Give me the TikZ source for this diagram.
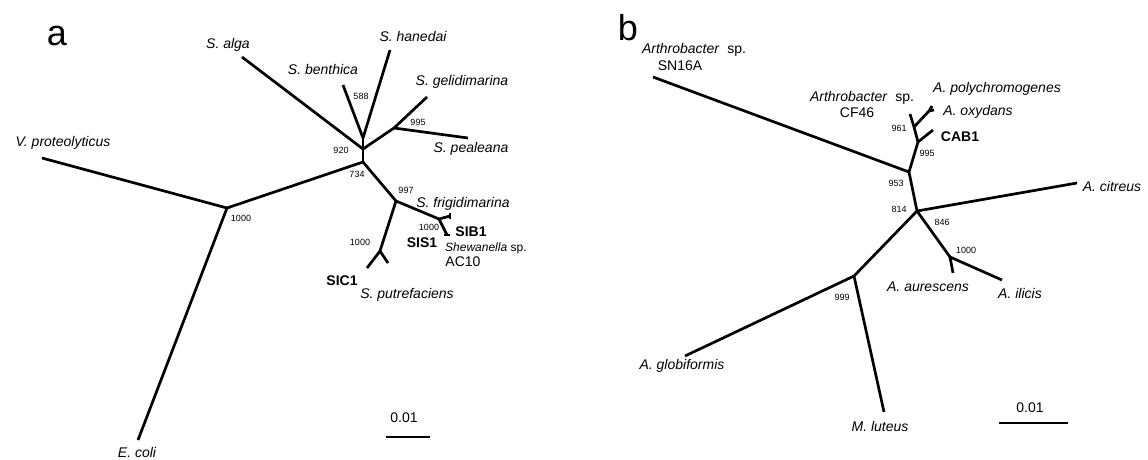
\documentclass[tikz,border=0pt]{standalone}
\usepackage{fontspec}
\setmainfont{Liberation Sans}
\begin{document}
\begin{tikzpicture}[x=1pt,y=-1pt,
  branch/.style={line width=2.7pt, line join=round},
  taxon/.style={font=\fontsize{14}{16}\selectfont\itshape, inner sep=0pt},
  strain/.style={font=\fontsize{14}{16}\selectfont\bfseries, inner sep=0pt},
  plain/.style={font=\fontsize{14}{16}\selectfont, inner sep=0pt},
  boot/.style={font=\fontsize{9}{10}\selectfont, inner sep=0pt},
  panel/.style={font=\fontsize{36}{40}\selectfont, inner sep=0pt, anchor=base},
  scalebar/.style={line width=2.4pt}]
\useasboundingbox (0,0) rectangle (1148,459);

% ---------------- panel a: Shewanella tree ----------------
\node[panel] (la) at (57,45) {a};

% internal nodes
\coordinate (a588) at (363,138);
\coordinate (a920) at (363,149);
\coordinate (a995) at (394,128);
\coordinate (a734) at (363,162);
\coordinate (a1000) at (227,208);
\coordinate (a997) at (396,201);
\coordinate (aSIB) at (439,219);
\coordinate (aSIC) at (380,251);
% tips
\coordinate (tAlga) at (242,57);
\coordinate (tBenth) at (343,85);
\coordinate (tHaned) at (390,50);
\coordinate (tGelid) at (427,97);
\coordinate (tPeal) at (468,138);
\coordinate (tVpro) at (42,158);
\coordinate (tEcoli) at (138,440);
\coordinate (tSIB1) at (450,216);
\coordinate (tSIS1) at (447,235);
\coordinate (tSIC1) at (367,268);
\coordinate (tPutr) at (388,263);

\draw[branch] (tAlga) -- (a920);
\draw[branch] (tBenth) -- (a588);
\draw[branch] (tHaned) -- (a588);
\draw[branch] (a588) -- (a920);
\draw[branch] (a920) -- (a995);
\draw[branch] (a995) -- (tGelid);
\draw[branch] (a995) -- (tPeal);
\draw[branch] (a920) -- (a734);
\draw[branch] (a734) -- (a1000);
\draw[branch] (a1000) -- (tVpro);
\draw[branch] (a1000) -- (tEcoli);
\draw[branch] (a734) -- (a997);
\draw[branch] (a997) -- (aSIB);
\draw[branch] (aSIB) -- (tSIB1);
\draw[branch] (aSIB) -- (tSIS1);
\draw[branch] ([xshift=-3pt]tSIS1) -- ([xshift=3pt]tSIS1);
\draw[branch] ([yshift=-3pt]tSIB1) -- ([yshift=3pt]tSIB1);
\draw[branch] (a997) -- (aSIC);
\draw[branch] (aSIC) -- (tSIC1);
\draw[branch] (aSIC) -- (tPutr);

% taxon labels
\node[taxon] (nAlga) at (228,45) {S. alga};
\node[taxon] (nBenth) at (323,69) {S. benthica};
\node[taxon] (nHaned) at (413,36) {S. hanedai};
\node[taxon] (nGelid) at (462,82) {S. gelidimarina};
\node[taxon] (nPeal) at (471,149) {S. pealeana};
\node[taxon] (nVpro) at (63,143) {V. proteolyticus};
\node[taxon] (nEcoli) at (137,452) {E. coli};
\node[taxon] (nFrig) at (463,204) {S. frigidimarina};
\node[strain] (nSIB1) at (471,232) {SIB1};
\node[strain] (nSIS1) at (422,243) {SIS1};
\node[plain, anchor=west, font=\fontsize{12}{14}\selectfont] (nShew) at (445,248) {\itshape Shewanella\/\upshape\ sp.};
\node[plain] (nAC10) at (463,262) {AC10};
\node[strain] (nSIC1) at (342,281) {SIC1};
\node[taxon] (nPutr) at (407,295) {S. putrefaciens};

% bootstrap values
\node[boot] (b588) at (361,96) {588};
\node[boot] (b995) at (418,122) {995};
\node[boot] (b920) at (341,150) {920};
\node[boot] (b734) at (357,174) {734};
\node[boot] (b997) at (406,190) {997};
\node[boot] (b1000a) at (241,218) {1000};
\node[boot] (b1000b) at (429,227) {1000};
\node[boot] (b1000c) at (360,242) {1000};

% scale bar
\coordinate (sa1) at (386,437);
\coordinate (sa2) at (430,437);
\draw[scalebar] (sa1) -- (sa2);
\node[plain] (sla) at (404,418) {0.01};

% ---------------- panel b: Arthrobacter tree ----------------
\node[panel] (lb) at (628,40) {b};

% internal nodes
\coordinate (b953) at (909,172);
\coordinate (b995n) at (918,142);
\coordinate (b961) at (914,127);
\coordinate (bOxy) at (929,111);
\coordinate (b814) at (917,211);
\coordinate (b1000n) at (950,257);
\coordinate (b999) at (854,276);
% tips
\coordinate (tSN) at (653,77);
\coordinate (tCF) at (910,114);
\coordinate (tPoly) at (932,106);
\coordinate (tOxyd) at (934,110);
\coordinate (tCAB) at (933,130);
\coordinate (tCitr) at (1077,183);
\coordinate (tAur) at (953,273);
\coordinate (tIlic) at (1002,280);
\coordinate (tGlob) at (685,356);
\coordinate (tLut) at (884,412);

\draw[branch] (tSN) -- (b953);
\draw[branch] (b953) -- (b995n);
\draw[branch] (b995n) -- (b961);
\draw[branch] (b961) -- (tCF);
\draw[branch] (b961) -- (bOxy);
\draw[branch] (bOxy) -- (tPoly);
\draw[branch] (bOxy) -- (tOxyd);
\draw[branch] (b995n) -- (tCAB);
\draw[branch] (b953) -- (b814);
\draw[branch] (b814) -- (tCitr);
\draw[branch] (b814) -- (b1000n);
\draw[branch] (b1000n) -- (tAur);
\draw[branch] (b1000n) -- (tIlic);
\draw[branch] (b814) -- (b999);
\draw[branch] (b999) -- (tGlob);
\draw[branch] (b999) -- (tLut);

% taxon labels
\node[plain] (nSNa) at (694,50) {\itshape Arthrobacter\/\upshape\ \ sp.};
\node[plain] (nSNb) at (680,66) {SN16A};
\node[plain] (nCFa) at (862,98) {\itshape Arthrobacter\/\upshape\ \ sp.};
\node[plain] (nCFb) at (857,113) {CF46};
\node[taxon] (nPoly) at (997,89) {A. polychromogenes};
\node[taxon] (nOxyd) at (978,112) {A. oxydans};
\node[strain] (nCAB) at (960,137) {CAB1};
\node[taxon] (nCitr) at (1112,186) {A. citreus};
\node[taxon] (nAur) at (928,287) {A. aurescens};
\node[taxon] (nIlic) at (1020,293) {A. ilicis};
\node[taxon] (nGlob) at (682,366) {A. globiformis};
\node[taxon] (nLut) at (880,426) {M. luteus};

% bootstrap values
\node[boot] (c961) at (899,128) {961};
\node[boot] (c995) at (927,153) {995};
\node[boot] (c953) at (896,183) {953};
\node[boot] (c814) at (899,209) {814};
\node[boot] (c846) at (942,222) {846};
\node[boot] (c1000) at (966,250) {1000};
\node[boot] (c999) at (842,297) {999};

% scale bar
\coordinate (sb1) at (999,423);
\coordinate (sb2) at (1068,423);
\draw[scalebar] (sb1) -- (sb2);
\node[plain] (slb) at (1030,408) {0.01};
\end{tikzpicture}
\end{document}
